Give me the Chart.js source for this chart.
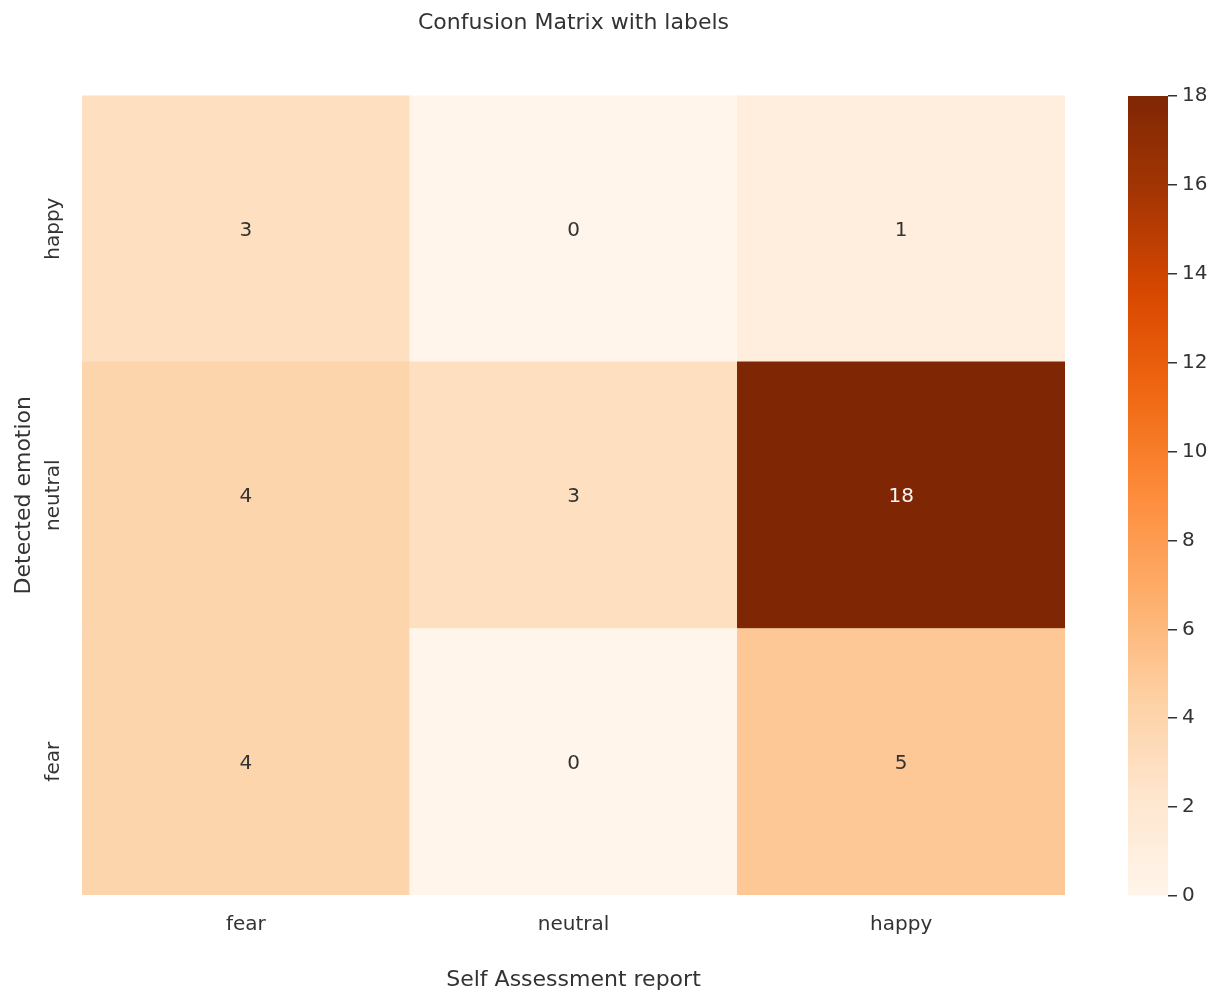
<!DOCTYPE html>
<html>
<head>
<meta charset="utf-8">
<script src="https://cdn.jsdelivr.net/npm/chart.js@4.4.1/dist/chart.umd.min.js"></script>
<style>
  html, body { margin: 0; padding: 0; background: #ffffff; }
  #wrap { position: relative; width: 1219px; height: 993px; }
  #main { position: absolute; left: 0; top: 0; }
  #cbar { position: absolute; left: 1100px; top: 0; }
</style>
</head>
<body>
<div id="wrap">
  <canvas id="main" width="1219" height="993"></canvas>
  <canvas id="cbar" width="119" height="993"></canvas>
</div>
<script>
// ---- data ----
const xLabels = ['fear', 'neutral', 'happy'];          // Self Assessment report (columns)
const yLabels = ['fear', 'neutral', 'happy'];          // Detected emotion (bottom -> top)
const rowFear = [4, 0, 5];
const rowNeutral = [4, 3, 18];
const rowHappy = [3, 0, 1];
const colorbarTicks = [0, 2, 4, 6, 8, 10, 12, 14, 16, 18];
const vMin = 0;
const vMax = 18;

const titleText = 'Confusion Matrix with labels';
const xTitle = 'Self Assessment report';
const yTitle = 'Detected emotion';

// ---- Oranges colormap ----
const ORANGES = ['#fff5eb', '#fee6ce', '#fdd0a2', '#fdae6b', '#fd8d3c', '#f16913', '#d94801', '#a63603', '#7f2704'];
function hexToRgb(h) { return [parseInt(h.substr(1, 2), 16), parseInt(h.substr(3, 2), 16), parseInt(h.substr(5, 2), 16)]; }
function cmap(v) {
  let t = (v - vMin) / (vMax - vMin);
  t = Math.max(0, Math.min(1, t));
  const n = ORANGES.length - 1;
  const p = t * n;
  const i = Math.min(Math.floor(p), n - 1);
  const f = p - i;
  const a = hexToRgb(ORANGES[i]), b = hexToRgb(ORANGES[i + 1]);
  const c = a.map((x, k) => Math.round(x + (b[k] - x) * f));
  return 'rgb(' + c.join(',') + ')';
}

const TEXT = '#333333';
const FONT = "'DejaVu Sans', sans-serif";
const rows = [rowFear, rowNeutral, rowHappy];

const datasets = rows.map((row, r) => ({
  label: yLabels[r],
  data: row.map(() => 1),
  values: row,
  backgroundColor: row.map(v => cmap(v)),
  borderWidth: 0,
  barPercentage: 1.0,
  categoryPercentage: 1.0,
  stack: 'm'
}));

const annotate = {
  id: 'annotate',
  afterDatasetsDraw(chart) {
    const ctx = chart.ctx;
    ctx.save();
    ctx.font = '20px ' + FONT;
    ctx.textAlign = 'center';
    ctx.textBaseline = 'middle';
    chart.data.datasets.forEach((ds, i) => {
      const meta = chart.getDatasetMeta(i);
      meta.data.forEach((el, j) => {
        const v = ds.values[j];
        ctx.fillStyle = v > 10 ? '#f5f5f5' : TEXT;
        ctx.fillText(String(v), el.x, (el.y + el.base) / 2 + 2);
      });
    });
    // y tick labels, rotated
    const ys = chart.scales.y;
    ctx.font = '20px ' + FONT;
    ctx.fillStyle = TEXT;
    yLabels.forEach((lab, r) => {
      const yp = ys.getPixelForValue(r + 0.5);
      ctx.save();
      ctx.translate(54, yp);
      ctx.rotate(-Math.PI / 2);
      ctx.textAlign = 'center';
      ctx.textBaseline = 'middle';
      ctx.fillText(lab, 0, 0);
      ctx.restore();
    });
    ctx.restore();
  }
};

new Chart(document.getElementById('main'), {
  type: 'bar',
  data: { labels: xLabels, datasets: datasets },
  options: {
    responsive: false,
    animation: false,
    devicePixelRatio: 1,
    layout: { padding: { left: 0, right: 154, top: 0, bottom: 0 } },
    plugins: {
      legend: { display: false },
      tooltip: { enabled: false },
      title: {
        display: true,
        text: titleText,
        fullSize: false,
        color: TEXT,
        font: { family: FONT, size: 22, weight: 'normal' },
        padding: { top: 10, bottom: 59 }
      }
    },
    scales: {
      x: {
        stacked: true,
        grid: { display: false },
        border: { display: false },
        ticks: { color: TEXT, font: { family: FONT, size: 20 }, padding: 10 },
        title: { display: true, text: xTitle, color: TEXT, font: { family: FONT, size: 22 }, padding: { top: 0, bottom: 0 } },
        afterFit(s) { s.height = 98; }
      },
      y: {
        stacked: true,
        min: 0,
        max: 3,
        grid: { display: false },
        border: { display: false },
        ticks: { display: false },
        title: { display: true, text: yTitle, color: TEXT, font: { family: FONT, size: 22 }, padding: { top: 11, bottom: 0 } },
        afterFit(s) { s.width = 82; }
      }
    }
  },
  plugins: [annotate]
});

// ---- colorbar ----
new Chart(document.getElementById('cbar'), {
  type: 'bar',
  data: {
    labels: ['v'],
    datasets: [{
      data: [[vMin, vMax]],
      backgroundColor(context) {
        const chart = context.chart;
        const area = chart.chartArea;
        if (!area) return ORANGES[0];
        const g = chart.ctx.createLinearGradient(0, area.bottom, 0, area.top);
        for (let k = 0; k <= 50; k++) {
          const t = k / 50;
          g.addColorStop(t, cmap(vMin + t * (vMax - vMin)));
        }
        return g;
      },
      borderWidth: 0,
      barPercentage: 1.0,
      categoryPercentage: 1.0
    }]
  },
  options: {
    responsive: false,
    animation: false,
    devicePixelRatio: 1,
    layout: { padding: { left: 28, right: 0, top: 96, bottom: 97 } },
    plugins: { legend: { display: false }, tooltip: { enabled: false } },
    scales: {
      x: { display: false, offset: true },
      y: {
        position: 'right',
        min: vMin,
        max: vMax,
        afterBuildTicks(s) { s.ticks = colorbarTicks.map(v => ({ value: v })); },
        grid: { drawOnChartArea: false, drawTicks: true, tickLength: 9, color: '#333333', lineWidth: 1.5 },
        border: { display: false },
        ticks: { color: TEXT, font: { family: FONT, size: 20 }, padding: 5 },
        afterFit(s) { s.width = 51; }
      }
    }
  }
});
</script>
</body>
</html>
